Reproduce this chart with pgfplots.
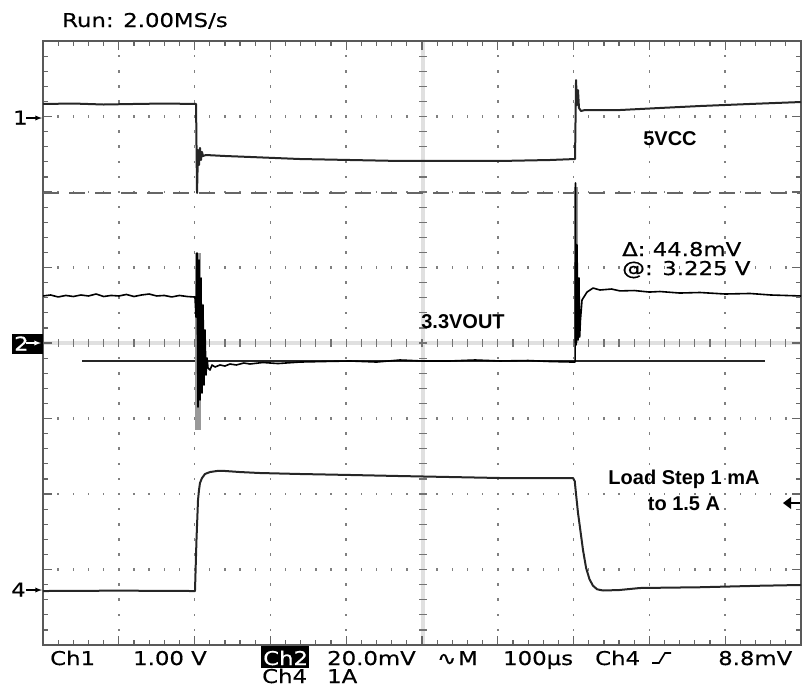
\documentclass[border=0pt]{standalone}
\usepackage{pgfplots}
\pgfplotsset{compat=1.18}
\usepackage{fontspec}
\setmainfont{DejaVu Sans}
\newfontfamily\scopefont[FakeStretch=1.2,FakeBold=0.5]{DejaVu Sans}
\newfontfamily\labfont{Liberation Sans}
\begin{document}
\begin{tikzpicture}
\useasboundingbox (0,0) rectangle (803pt,-689pt);
\begin{scope}[x=1pt,y=-1pt]
% dotted grid
\foreach \k in {1,2,3,4,6,7,8,9} {
  \pgfmathsetmacro\xx{43+75.8*\k}
  \foreach \m in {1,...,39} {
    \pgfmathsetmacro\yy{41+15.1*\m}
    \fill[black!50] (\xx-0.8,\yy-1.3) rectangle (\xx+0.8,\yy+1.3);
  }
}
\foreach \j in {1,2,3,5,6,7} {
  \pgfmathsetmacro\yy{41+75.5*\j}
  \foreach \m in {1,...,49} {
    \pgfmathsetmacro\xx{43+15.16*\m}
    \fill[black!50] (\xx-0.7,\yy-1.2) rectangle (\xx+0.7,\yy+1.2);
  }
}
% centre cross
\draw[black!12, line width=4pt] (423,41) -- (423,645);
\draw[black!12, line width=4pt] (43,343) -- (801,343);
\foreach \m in {1,...,39} {
  \pgfmathsetmacro\yy{41+15.1*\m}
  \draw[black!55, line width=1.2pt] (419,\yy) -- (427,\yy);
  \draw[black!60, line width=1.2pt] (43,\yy) -- (48,\yy);
  \draw[black!60, line width=1.2pt] (801,\yy) -- (796,\yy);
}
\foreach \m in {1,...,49} {
  \pgfmathsetmacro\xx{43+15.16*\m}
  \draw[black!55, line width=1.2pt] (\xx,339) -- (\xx,347);
  \draw[black!60, line width=1.2pt] (\xx,41) -- (\xx,46);
  \draw[black!60, line width=1.2pt] (\xx,645) -- (\xx,640);
}
\foreach \k in {1,...,9} {
  \pgfmathsetmacro\xx{43+75.8*\k}
  \draw[black!60, line width=1.2pt] (\xx,41) -- (\xx,50);
  \draw[black!60, line width=1.2pt] (\xx,645) -- (\xx,636);
}
\foreach \j in {1,...,7} {
  \pgfmathsetmacro\yy{41+75.5*\j}
  \draw[black!60, line width=1.2pt] (43,\yy) -- (52,\yy);
  \draw[black!60, line width=1.2pt] (801,\yy) -- (792,\yy);
}
\draw[black!65, line width=2pt] (43,41) rectangle (801,645);
\end{scope}

\begin{axis}[at={(43pt,-645pt)}, anchor=south west, scale only axis,
  width=758pt, height=604pt, xmin=0, xmax=1000, ymin=-4, ymax=4,
  hide axis, clip=true]
% cursors
\addplot[black!60, line width=1.5pt, dash pattern=on 16pt off 10pt] coordinates {(0,1.987) (1000,1.987)};
\addplot[black!85, line width=1.4pt] coordinates {(51.5,-0.238) (952.5,-0.238)};
% ringing envelopes
\addplot[black!40, line width=6pt] coordinates {(205,1.192) (205,-1.15)};
\addplot[black!40, line width=4pt] coordinates {(702.6,2.066) (702.6,0.0)};
% Ch1 5VCC
\addplot[black!85, line width=2pt, line join=round] coordinates {
(0,3.166) (40,3.172) (80,3.159) (120,3.166) (160,3.172) (201.9,3.166)
(203.2,1.987) (204.5,2.556) (205.8,2.358) (207.1,2.583) (208.4,2.424)
(209.8,2.530) (211.1,2.477) (215.0,2.490) (240.1,2.477) (273.1,2.464)
(339.1,2.437) (405.0,2.424) (471.0,2.411) (537.0,2.411) (602.9,2.411)
(668.9,2.424) (701.9,2.437) (703.2,3.483) (704.5,3.152) (705.8,3.350)
(707.1,3.113) (709.8,3.073) (715,3.086) (761.2,3.086) (814.0,3.113)
(866.8,3.139) (932.7,3.166) (1000,3.192)};
% Ch2 3.3VOUT
\addplot[black, line width=1.6pt, line join=round] coordinates {
(0,0.623) (10,0.636) (20,0.610) (30,0.630) (40,0.616) (50,0.636) (60,0.623)
(70,0.649) (80,0.616) (90,0.630) (100,0.623) (110,0.643) (120,0.616)
(130,0.636) (140,0.649) (150,0.623) (160,0.630) (170,0.610) (180,0.630)
(190,0.616) (200.5,0.609) (201.9,0.344)
(203.2,1.192) (204.5,-0.848) (205.8,1.099) (207.1,-0.755) (208.4,0.861)
(209.8,-0.662) (211.1,0.503) (212.4,-0.556) (213.7,0.172) (215.0,-0.424)
(216.4,-0.199) (217.7,-0.331) (220.3,-0.358) (223.0,-0.291) (226.9,-0.318)
(233.5,-0.291) (240,-0.305) (246.7,-0.278) (255,-0.291) (265,-0.265)
(273.1,-0.278) (290,-0.258) (310,-0.272) (339.1,-0.252) (370,-0.245)
(405,-0.238) (440,-0.252) (471,-0.225) (500,-0.238) (537,-0.238)
(570,-0.225) (602.9,-0.238) (640,-0.232) (668.9,-0.245) (699.2,-0.252)
(701.9,-0.252) (702.5,2.119) (703.2,-0.026) (704.5,1.298) (705.8,0.040)
(707.1,0.861) (708.0,0.079) (709.0,0.300) (711.1,0.570) (717.7,0.675)
(725.6,0.728) (734.8,0.702) (750,0.715) (761.2,0.690) (780,0.695)
(800,0.675) (814,0.682) (840,0.662) (866.8,0.669) (900,0.649)
(932.7,0.656) (960,0.636) (1000,0.623)};
% Ch4 load current
\addplot[black!85, line width=2pt, line join=round] coordinates {
(0,-3.285) (100,-3.280) (200.5,-3.285) (202.5,-2.6) (204.5,-2.079)
(205.8,-1.947) (207.1,-1.854) (209.8,-1.788) (213.7,-1.735) (220.3,-1.709)
(229.6,-1.695) (240.1,-1.695) (259.9,-1.709) (286.3,-1.722) (339.1,-1.735)
(405,-1.748) (471,-1.762) (537,-1.775) (602.9,-1.788) (668.9,-1.788)
(699.2,-1.788) (701.5,-1.830) (703.2,-2.000) (705.8,-2.250) (708.5,-2.450)
(712.4,-2.742) (716.5,-2.980) (721.0,-3.130) (725.6,-3.215) (731.0,-3.262)
(738.8,-3.278) (760,-3.272) (787.6,-3.245)
(866.8,-3.235) (945.9,-3.215) (1000,-3.205)};
\end{axis}

\begin{scope}[x=1pt,y=-1pt]
\fontsize{19pt}{19pt}\selectfont
\node[anchor=base west, inner sep=0pt, font=\scopefont] at (62,27) {Run: 2.00MS/s};
% channel markers
\node[anchor=base west, inner sep=0pt, font=\scopefont] at (13,124.5) {1};
\draw[-latex, line width=1.3pt] (26,118) -- (42,118);
\fill[black] (12,334) rectangle (43,354);
\node[anchor=base west, inner sep=0pt, font=\scopefont, text=white] at (14,350.5) {2};
\draw[-latex, line width=1.3pt, white] (26,343) -- (41,343);
\node[anchor=base west, inner sep=0pt, font=\scopefont] at (11,596.5) {4};
\draw[-latex, line width=1.3pt] (26,590) -- (42,590);
% trigger level marker
\fill[black] (783,503) -- (791,497) -- (791,509) -- cycle;
\draw[line width=1.3pt] (790,503) -- (800,503);
% bottom status line
\node[anchor=base west, inner sep=0pt, font=\scopefont] at (50,665) {Ch1};
\node[anchor=base west, inner sep=0pt, font=\scopefont] at (133,665) {1.00 V};
\fill[black] (261,646) rectangle (309,668);
\node[anchor=base west, inner sep=0pt, font=\scopefont, text=white] at (263,665) {Ch2};
\node[anchor=base west, inner sep=0pt, font=\scopefont] at (327,665) {20.0mV};
\node[anchor=base west, inner sep=0pt, font=\scopefont] at (437,665) {∿};
\node[anchor=base west, inner sep=0pt, font=\scopefont] at (458,665) {M};
\node[anchor=base west, inner sep=0pt, font=\scopefont] at (503,665) {100µs};
\node[anchor=base west, inner sep=0pt, font=\scopefont] at (595,665) {Ch4};
\draw[line width=1.6pt] (652,663) -- (659,663) -- (665,653) -- (671,653);
\node[anchor=base west, inner sep=0pt, font=\scopefont] at (718,665) {8.8mV};
\node[anchor=base west, inner sep=0pt, font=\scopefont] at (262,683) {Ch4};
\node[anchor=base west, inner sep=0pt, font=\scopefont] at (327,683) {1A};
% cursor readout
\node[anchor=base west, inner sep=0pt, font=\scopefont] at (622,256) {Δ: 44.8mV};
\node[anchor=base west, inner sep=0pt, font=\scopefont] at (622,275) {@: 3.225 V};
% annotations
\node[anchor=base, inner sep=0pt, font=\labfont\bfseries\fontsize{20pt}{20pt}\selectfont] at (670,145) {5VCC};
\node[anchor=base, inner sep=0pt, font=\labfont\bfseries\fontsize{20pt}{20pt}\selectfont] at (463,328) {3.3VOUT};
\node[anchor=base, inner sep=0pt, font=\labfont\bfseries\fontsize{20pt}{20pt}\selectfont] at (684,484) {Load Step 1 mA};
\node[anchor=base, inner sep=0pt, font=\labfont\bfseries\fontsize{20pt}{20pt}\selectfont] at (684,510) {to 1.5 A};
\end{scope}
\end{tikzpicture}
\end{document}
